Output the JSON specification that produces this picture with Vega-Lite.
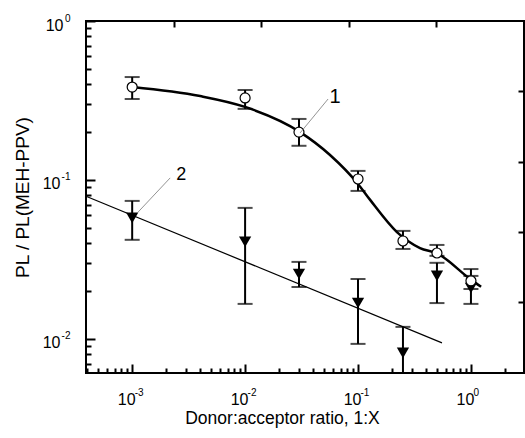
{
  "$schema": "https://vega.github.io/schema/vega-lite/v6.json",
  "width": 438,
  "height": 352,
  "autosize": "none",
  "padding": {"left": 86, "top": 21, "right": 1, "bottom": 65},
  "config": {
    "view": {"stroke": "#000", "strokeWidth": 2},
    "font": "Liberation Sans",
    "axis": {
      "grid": false, "domain": false, "tickColor": "#000", "tickWidth": 2,
      "labelColor": "#000", "titleColor": "#000",
      "labelFont": "Liberation Sans", "titleFont": "Liberation Sans",
      "labelFontSize": 16, "titleFontSize": 17.5, "titleFontWeight": "normal"
    }
  },
  "datasets": {
    "pts1": [
      {"x": 0.001, "y": 0.384, "lo": 0.323, "hi": 0.444},
      {"x": 0.01, "y": 0.328, "lo": 0.280, "hi": 0.368},
      {"x": 0.03, "y": 0.200, "lo": 0.164, "hi": 0.242},
      {"x": 0.1, "y": 0.1014, "lo": 0.0853, "hi": 0.114},
      {"x": 0.25, "y": 0.0413, "lo": 0.0368, "hi": 0.0478},
      {"x": 0.5, "y": 0.0347, "lo": 0.0333, "hi": 0.039},
      {"x": 1, "y": 0.0232, "lo": 0.0206, "hi": 0.0275}
    ],
    "pts2": [
      {"x": 0.001, "y": 0.0577, "lo": 0.042, "hi": 0.0738},
      {"x": 0.01, "y": 0.0408, "lo": 0.0166, "hi": 0.0667},
      {"x": 0.03, "y": 0.0256, "lo": 0.0212, "hi": 0.0305},
      {"x": 0.1, "y": 0.0168, "lo": 0.0093, "hi": 0.0238},
      {"x": 0.25, "y": 0.00817, "lo": 0.005, "hi": 0.0119},
      {"x": 0.5, "y": 0.0249, "lo": 0.0168, "hi": 0.0301},
      {"x": 1, "y": 0.0209, "lo": 0.0166, "hi": 0.0249}
    ],
    "fit1": [
      {"x": 0.001, "y": 0.384},
      {"x": 0.004, "y": 0.337},
      {"x": 0.01, "y": 0.288},
      {"x": 0.0307, "y": 0.200},
      {"x": 0.0565, "y": 0.1436},
      {"x": 0.1, "y": 0.0944},
      {"x": 0.128, "y": 0.0749},
      {"x": 0.221, "y": 0.047},
      {"x": 0.354, "y": 0.0373},
      {"x": 0.5, "y": 0.0345},
      {"x": 1, "y": 0.0236},
      {"x": 1.23, "y": 0.0213}
    ],
    "fit2": [
      {"x": 0.00039, "y": 0.079},
      {"x": 0.554, "y": 0.00944}
    ],
    "labels": [
      {"x": 0.0626, "y": 0.333, "t": "1", "s": "italic", "f": 20},
      {"x": 0.00272, "y": 0.1075, "t": "2", "s": "normal", "f": 18}
    ],
    "leaders": [
      {"x": 0.0543, "y": 0.323, "x2": 0.0307, "y2": 0.1976},
      {"x": 0.00217, "y": 0.103, "x2": 0.00111, "y2": 0.062}
    ]
  },
  "layer": [
    {
      "data": {"name": "fit2"},
      "mark": {"type": "line", "color": "#000", "strokeWidth": 1.2},
      "encoding": {
        "x": {"field": "x", "type": "quantitative",
          "scale": {"type": "log", "domain": [0.00039, 2.95], "nice": false},
          "axis": {"orient": "bottom", "values": [0.001, 0.01, 0.1, 1], "tickSize": -9, "labels": false,
            "title": "Donor:acceptor ratio, 1:X", "titleX": 196, "titleY": 50,
            "titleAlign": "center", "titleBaseline": "alphabetic"}},
        "y": {"field": "y", "type": "quantitative",
          "scale": {"type": "log", "domain": [0.0061, 1], "nice": false},
          "axis": {"orient": "left", "values": [0.01, 0.1, 1], "tickSize": -9, "labels": false,
            "title": "PL / PL(MEH-PPV)", "titleX": -58, "titleY": 176, "titleAngle": -90,
            "titleFontSize": 19,
            "titleAlign": "center", "titleBaseline": "alphabetic"}}
      }
    },
    {
      "data": {"name": "fit1"},
      "mark": {"type": "line", "color": "#000", "strokeWidth": 2.5, "interpolate": "monotone"},
      "encoding": {
        "x": {"field": "x", "type": "quantitative",
          "scale": {"type": "log", "domain": [0.00039, 2.95], "nice": false},
          "axis": {"orient": "bottom", "tickSize": -5, "labels": false, "title": null,
            "values": [0.0004, 0.0005, 0.0006, 0.0007, 0.0008, 0.0009, 0.002, 0.003, 0.004, 0.005, 0.006, 0.007, 0.008, 0.009, 0.02, 0.03, 0.04, 0.05, 0.06, 0.07, 0.08, 0.09, 0.2, 0.3, 0.4, 0.5, 0.6, 0.7, 0.8, 0.9, 2]}},
        "y": {"field": "y", "type": "quantitative",
          "scale": {"type": "log", "domain": [0.0061, 1], "nice": false},
          "axis": {"orient": "left", "tickSize": -5, "labels": false, "title": null,
            "values": [0.007, 0.008, 0.009, 0.02, 0.03, 0.04, 0.05, 0.06, 0.07, 0.08, 0.09, 0.2, 0.3, 0.4, 0.5, 0.6, 0.7, 0.8, 0.9]}}
      }
    },
    {
      "data": {"name": "pts1"},
      "mark": {"type": "rule", "color": "#000", "strokeWidth": 2},
      "encoding": {
        "x": {"field": "x", "type": "quantitative",
          "scale": {"type": "log", "domain": [0.00039, 2.95], "nice": false},
          "axis": {"orient": "top", "tickSize": -6, "labels": false, "title": null,
            "values": [0.00233, 0.0139, 0.0829, 0.494]}},
        "y": {"field": "lo", "type": "quantitative",
          "scale": {"type": "log", "domain": [0.0061, 1], "nice": false},
          "axis": {"orient": "right", "tickSize": -6, "labels": false, "title": null,
            "values": [0.3606, 0.130, 0.0469, 0.01694]}},
        "y2": {"field": "hi"}
      }
    },
    {
      "data": {"name": "pts2"},
      "mark": {"type": "rule", "color": "#000", "strokeWidth": 2, "clip": true},
      "encoding": {
        "x": {"field": "x", "type": "quantitative", "scale": {"type": "log", "domain": [0.00039, 2.95], "nice": false},
          "axis": {"orient": "bottom", "values": [0.001, 0.01, 0.1, 1], "ticks": false, "tickSize": 0,
            "labelExpr": "'10'", "labelFontSize": 16, "labelAlign": "center", "labelBaseline": "alphabetic",
            "labelPadding": 31, "labelOffset": -6, "title": null}},
        "y": {"field": "lo", "type": "quantitative", "scale": {"type": "log", "domain": [0.0061, 1], "nice": false},
          "axis": {"orient": "left", "values": [0.01, 0.1, 1], "ticks": false, "tickSize": 0,
            "labelExpr": "'10'", "labelFontSize": 16, "labelAlign": "right", "labelBaseline": "alphabetic",
            "labelOffset": 9,
            "labelPadding": {"condition": {"test": "datum.value > 0.5", "value": 23}, "value": 26},
            "title": null}},
        "y2": {"field": "hi"}
      }
    },
    {
      "data": {"name": "pts1"},
      "mark": {"type": "tick", "orient": "horizontal", "color": "#000", "size": 15, "thickness": 2},
      "encoding": {
        "x": {"field": "x", "type": "quantitative", "scale": {"type": "log", "domain": [0.00039, 2.95], "nice": false},
          "axis": {"orient": "bottom", "values": [0.001, 0.01, 0.1, 1], "ticks": false, "tickSize": 0,
            "labelExpr": "datum.value < 0.005 ? '-3' : datum.value < 0.05 ? '-2' : datum.value < 0.5 ? '-1' : '0'",
            "labelFontSize": 10, "labelAlign": "left", "labelBaseline": "alphabetic",
            "labelPadding": 22, "labelOffset": 2, "title": null}},
        "y": {"field": "hi", "type": "quantitative", "scale": {"type": "log", "domain": [0.0061, 1], "nice": false},
          "axis": {"orient": "left", "values": [0.01, 0.1, 1], "ticks": false, "tickSize": 0,
            "labelExpr": "datum.value < 0.05 ? '-2' : datum.value < 0.5 ? '-1' : '0'",
            "labelFontSize": 10, "labelAlign": "right", "labelBaseline": "alphabetic",
            "labelPadding": 16, "labelOffset": 0, "title": null}}
      }
    },
    {
      "data": {"name": "pts1"},
      "mark": {"type": "tick", "orient": "horizontal", "color": "#000", "size": 15, "thickness": 2},
      "encoding": {
        "x": {"field": "x", "type": "quantitative", "scale": {"type": "log", "domain": [0.00039, 2.95], "nice": false}, "axis": null},
        "y": {"field": "lo", "type": "quantitative", "scale": {"type": "log", "domain": [0.0061, 1], "nice": false}, "axis": null}
      }
    },
    {
      "data": {"name": "pts2"},
      "mark": {"type": "tick", "orient": "horizontal", "color": "#000", "size": 15, "thickness": 2, "clip": true},
      "encoding": {
        "x": {"field": "x", "type": "quantitative", "scale": {"type": "log", "domain": [0.00039, 2.95], "nice": false}, "axis": null},
        "y": {"field": "hi", "type": "quantitative", "scale": {"type": "log", "domain": [0.0061, 1], "nice": false}, "axis": null}
      }
    },
    {
      "data": {"name": "pts2"},
      "mark": {"type": "tick", "orient": "horizontal", "color": "#000", "size": 15, "thickness": 2, "clip": true},
      "encoding": {
        "x": {"field": "x", "type": "quantitative", "scale": {"type": "log", "domain": [0.00039, 2.95], "nice": false}, "axis": null},
        "y": {"field": "lo", "type": "quantitative", "scale": {"type": "log", "domain": [0.0061, 1], "nice": false}, "axis": null}
      }
    },
    {
      "data": {"name": "pts2"},
      "mark": {"type": "point", "shape": "triangle-down", "filled": true, "color": "#000", "size": 150, "opacity": 1},
      "encoding": {
        "x": {"field": "x", "type": "quantitative", "scale": {"type": "log", "domain": [0.00039, 2.95], "nice": false}, "axis": null},
        "y": {"field": "y", "type": "quantitative", "scale": {"type": "log", "domain": [0.0061, 1], "nice": false}, "axis": null}
      }
    },
    {
      "data": {"name": "pts1"},
      "mark": {"type": "point", "shape": "circle", "filled": true, "fill": "#fff", "stroke": "#000", "strokeWidth": 1.2, "size": 100, "opacity": 1},
      "encoding": {
        "x": {"field": "x", "type": "quantitative", "scale": {"type": "log", "domain": [0.00039, 2.95], "nice": false}, "axis": null},
        "y": {"field": "y", "type": "quantitative", "scale": {"type": "log", "domain": [0.0061, 1], "nice": false}, "axis": null}
      }
    },
    {
      "data": {"name": "leaders"},
      "mark": {"type": "rule", "color": "#777", "strokeWidth": 0.8},
      "encoding": {
        "x": {"field": "x", "type": "quantitative", "scale": {"type": "log", "domain": [0.00039, 2.95], "nice": false}, "axis": null},
        "y": {"field": "y", "type": "quantitative", "scale": {"type": "log", "domain": [0.0061, 1], "nice": false}, "axis": null},
        "x2": {"field": "x2"},
        "y2": {"field": "y2"}
      }
    },
    {
      "data": {"name": "labels"},
      "mark": {"type": "text", "color": "#000", "font": "Liberation Sans", "align": "center", "baseline": "middle"},
      "encoding": {
        "x": {"field": "x", "type": "quantitative", "scale": {"type": "log", "domain": [0.00039, 2.95], "nice": false}, "axis": null},
        "y": {"field": "y", "type": "quantitative", "scale": {"type": "log", "domain": [0.0061, 1], "nice": false}, "axis": null},
        "text": {"field": "t"},
        "fontStyle": {"field": "s", "type": "nominal", "scale": null},
        "size": {"field": "f", "type": "quantitative", "scale": null}
      }
    }
  ],
  "resolve": {"axis": {"x": "independent", "y": "independent"}}
}
